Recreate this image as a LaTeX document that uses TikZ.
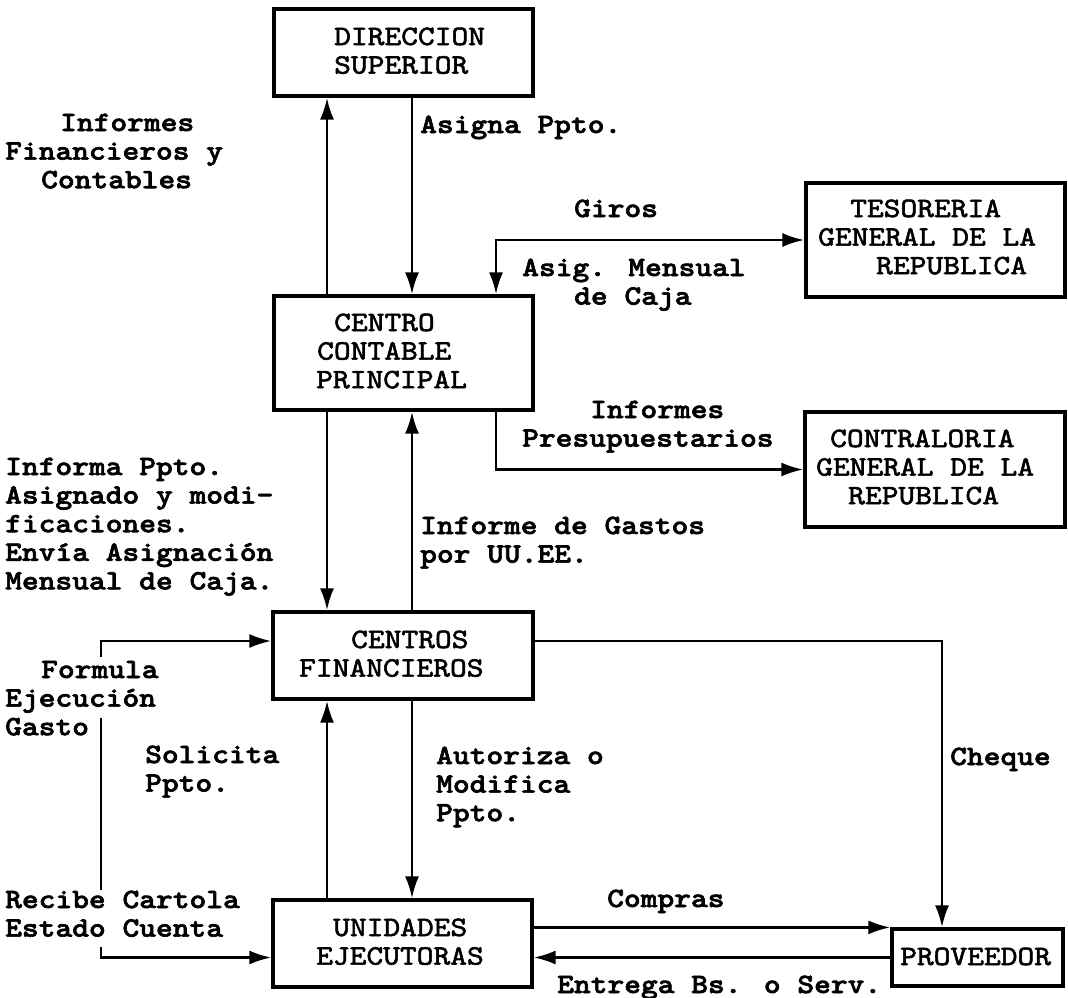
\documentclass[tikz,border=0pt]{standalone}
\usepackage{fontspec}
\usetikzlibrary{arrows.meta}
% typewriter faces: bold for flow labels, regular (slightly emboldened) inside boxes
\newfontfamily\lblfont{lmmonolt10-bold.otf}[FakeStretch=1.14, FakeBold=2.2]
\newfontfamily\boxfont{lmmono10-regular.otf}[FakeStretch=1.14, FakeBold=2]
\newcommand\ind[1]{\hspace*{#1pt}}

\begin{document}
\begin{tikzpicture}[x=1pt,y=-1pt]
\tikzset{
  box/.style={draw, line width=3.2pt, inner sep=0pt},
  boxtext/.style={font=\boxfont\fontsize{28}{28.6}\selectfont, align=left, anchor=base west, inner sep=0pt},
  lbl/.style={font=\lblfont\fontsize{28}{28.6}\selectfont, align=left, anchor=base west, inner sep=0pt},
  conn/.style={line width=2.8pt},
  arr/.style={conn, -{Latex[length=22pt,width=14pt]}},
  arrs/.style={conn, {Latex[length=22pt,width=14pt]}-{Latex[length=22pt,width=14pt]}},
}
\fill[white] (0,0) rectangle (1068,998);
\useasboundingbox (0,0) rectangle (1068,998);

% boxes
\node[box, minimum width=259pt, minimum height=87pt]  (ds)   at (403.5,52.5) {};
\node[box, minimum width=259pt, minimum height=114pt] (ccp)  at (403.5,353) {};
\node[box, minimum width=260pt, minimum height=87pt]  (cf)   at (403,655.5) {};
\node[box, minimum width=259pt, minimum height=87pt]  (ue)   at (402.5,943.5) {};
\node[box, minimum width=259pt, minimum height=114pt] (tgr)  at (935.5,240) {};
\node[box, minimum width=260pt, minimum height=115pt] (cgr)  at (935,469.5) {};
\node[box, minimum width=171pt, minimum height=57pt]  (prov) at (977.5,957.5) {};

% box texts (anchored at the baseline of their last line)
\node[boxtext] (dsT)   at (334,73.6)  {DIRECCION\\SUPERIOR};
\node[boxtext] (ccpT)  at (316,388.2) {\ind{18}CENTRO\\\ind{1}CONTABLE\\PRINCIPAL};
\node[boxtext] (cfT)   at (299,676.6) {\ind{52}CENTROS\\FINANCIEROS};
\node[boxtext] (ueT)   at (316,964.6) {\ind{17}UNIDADES\\EJECUTORAS};
\node[boxtext] (tgrT)  at (818,274.2) {\ind{32}TESORERIA\\GENERAL DE LA\\\ind{58}REPUBLICA};
\node[boxtext] (cgrT)  at (816,504.2) {\ind{14}CONTRALORIA\\GENERAL DE LA\\\ind{32}REPUBLICA};
\node[boxtext] (provT) at (900,965)   {PROVEEDOR};

% connector columns and rows
\coordinate (xA) at (327,0);
\coordinate (xB) at (412,0);
\coordinate (xG) at (496,0);
\coordinate (xC) at (942,0);
\coordinate (rowT) at (0,641);
\coordinate (fa) at (101,657);
\coordinate (fb) at (101,718);
\coordinate (fc) at (101,890);
\coordinate (fd) at (101,947);

% connectors
\draw[arr]  (ccp.north -| xA) -- (ds.south -| xA);
\draw[arr]  (ds.south -| xB) -- (ccp.north -| xB);
\draw[arrs] (tgr.west) -| (ccp.north -| xG);
\draw[arr]  (ccp.south -| xG) |- (cgr.west);
\draw[arr]  (ccp.south -| xA) -- (cf.north -| xA);
\draw[arr]  (cf.north -| xB) -- (ccp.south -| xB);
\draw[arr]  (cf.east |- rowT) -| (prov.north -| xC);
\draw[arr]  (ue.north -| xA) -- (cf.south -| xA);
\draw[arr]  (cf.south -| xB) -- (ue.north -| xB);
\draw[arr]  (ue.east |- prov.north) -- (prov.north west);
\draw[arr]  (prov.west) -- (ue.east |- prov.west);
\draw[arr]  (fa) |- (cf.west |- rowT);
\draw[conn] (fb) -- (fc);
\draw[arr]  (fd) |- (ue.west |- prov.west);

% labels (anchored at the baseline of their last line)
\node[lbl] (asg)     at (420,133)   {Asigna Ppto.};
\node[lbl] (infA)    at (5,188.2)   {\ind{55}Informes\\Financieros y\\\ind{36}Contables};
\node[lbl] (giros)   at (574,217)   {Giros};
\node[lbl] (asig)    at (522,304.6) {Asig. Mensual\\\ind{52}de Caja};
\node[lbl] (infP)    at (522,446.6) {\ind{68}Informes\\Presupuestarios};
\node[lbl] (infPpto) at (5,589.4)   {Informa Ppto.\\Asignado y modi-\\ficaciones.\\Envía Asignación\\Mensual de Caja.};
\node[lbl] (infG)    at (420,562.6) {Informe de Gastos\\por UU.EE.};
\node[lbl] (form)    at (5,735.2)   {\ind{36}Formula\\Ejecución\\Gasto};
\node[lbl] (sol)     at (145,791.6) {Solicita\\Ppto.};
\node[lbl] (aut)     at (436,821.2) {Autoriza o\\Modifica\\Ppto.};
\node[lbl] (cheque)  at (950,765)   {Cheque};
\node[lbl] (rec)     at (5,936.6)   {Recibe Cartola\\Estado Cuenta};
\node[lbl] (compras) at (607,907)   {Compras};
\node[lbl] (entrega) at (557,993)   {Entrega Bs. o Serv.};
\end{tikzpicture}
\end{document}
